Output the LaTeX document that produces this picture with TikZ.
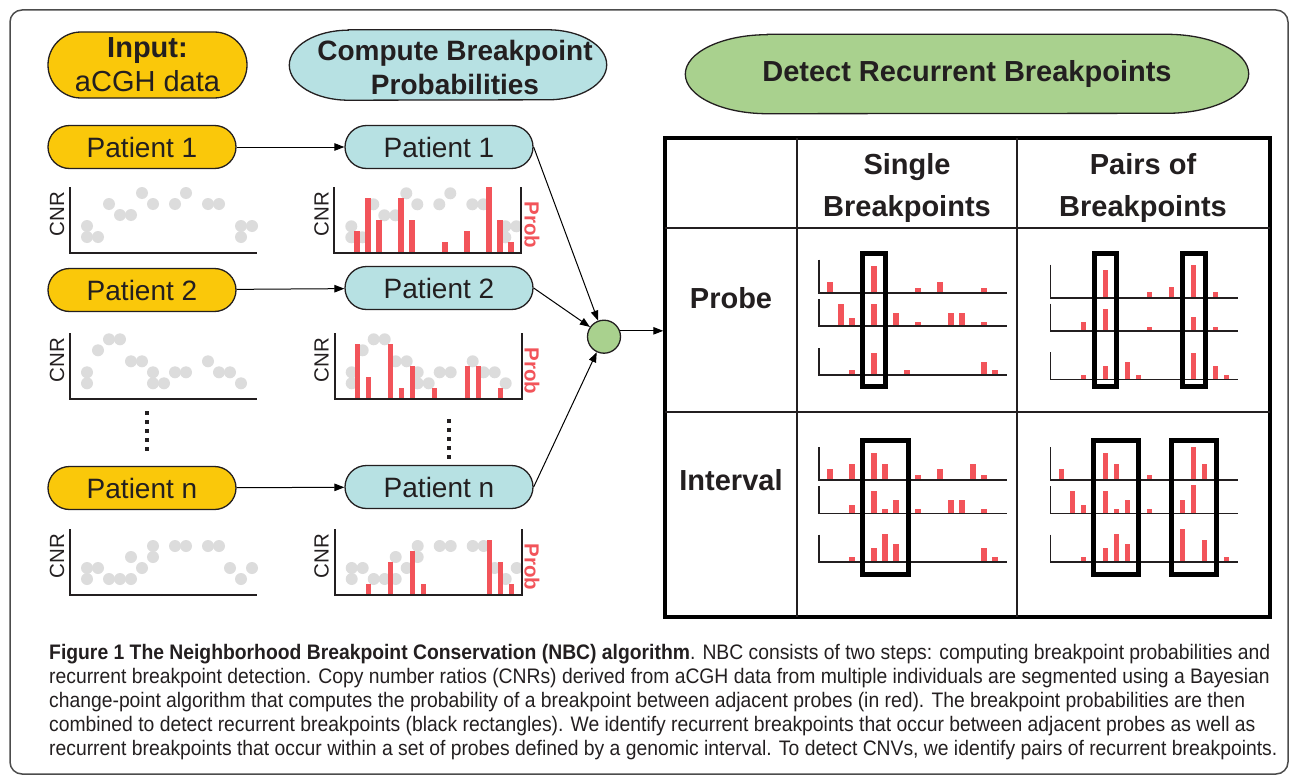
\documentclass[tikz,border=0pt]{standalone}
\usepackage{fontspec}
\setmainfont{Liberation Sans}
\newfontfamily\capfont[FakeStretch=0.92]{Liberation Sans}
\usepackage{xcolor}
\usepackage{tikz}
\usetikzlibrary{arrows.meta, shapes.geometric}

\definecolor{inputyellow}{RGB}{250,200,10}
\definecolor{computeblue}{RGB}{183,225,227}
\definecolor{detectgreen}{RGB}{169,209,142}
\definecolor{probred}{RGB}{242,84,90}
\definecolor{probegray}{RGB}{220,220,220}
\definecolor{inkdark}{RGB}{35,31,32}

% CNR scatter: origin x, origin y, dots k/level
\newcommand{\cnrplot}[3]{%
  \foreach \k/\l in {#3}
    \fill[probegray] ({#1+17+11*\k},{#2-5-11*\l}) circle (6);
  \draw[axisline] (#1,#2-66) -- (#1,#2) -- (#1+187,#2);
}
% CNR scatter with breakpoint probabilities: origin x, origin y, dots, bars j/level
\newcommand{\probplot}[4]{%
  \foreach \k/\l in {#3}
    \fill[probegray] ({#1+17+11*\k},{#2-5-11*\l}) circle (6);
  \foreach \j/\h in {#4}
    \fill[probred] ({#1+22.5+11*\j-2.7},#2) rectangle ++(5.4,{-11*\h});
  \draw[axisline] (#1,#2-66) -- (#1,#2) -- (#1+187,#2) -- (#1+187,#2-66);
}
% one track in the table: x, baseline, axis height, bars j/height
\newcommand{\bptrack}[4]{%
  \foreach \j/\h in {#4}
    \fill[probred] ({#1+11*\j-2.7},#2) rectangle ++(5.4,-\h);
  \draw[trackline] (#1,#2-#3) -- (#1,#2) -- (#1+188,#2);
}
% oval heading round a node: node, end radius, half height, fill
\newcommand{\stageoval}[4]{%
  \draw[draw=inkdark, line width=1.3, fill=#4]
    ([xshift=#2]#1.north west) -- ([xshift=-#2]#1.north east)
    arc[start angle=-90, end angle=90, x radius=#2, y radius=#3]
    -- ([xshift=#2]#1.south west)
    arc[start angle=90, end angle=270, x radius=#2, y radius=#3] -- cycle;
}

\begin{document}
\begin{tikzpicture}[x=1pt, y=-1pt,
    axisline/.style={line width=2, inkdark},
    trackline/.style={line width=1.6, inkdark},
    hitbox/.style={line width=5, black},
    cellline/.style={line width=1.8, inkdark},
    patientin/.style={draw=inkdark, line width=1.3, fill=inputyellow, rounded corners=21.5,
      minimum width=188, minimum height=43, inner sep=0, text=inkdark,
      font=\fontsize{28}{34}\selectfont},
    patientout/.style={patientin, fill=computeblue},
    stagehead/.style={inner sep=0, align=center, text=inkdark,
      font=\bfseries\fontsize{28}{34}\selectfont},
    cnrlabel/.style={rotate=90, inner sep=0, text=inkdark, font=\fontsize{20.5}{24}\selectfont},
    problabel/.style={rotate=-90, inner sep=0, text=probred, font=\bfseries\fontsize{20.5}{24}\selectfont},
    tablehead/.style={inner sep=0, align=center, text=inkdark, font=\bfseries\fontsize{29}{41}\selectfont},
    flow/.style={-{Triangle[length=10,width=7.5]}, line width=1, black}]
  \useasboundingbox (0,0) rectangle (1290,776);

  % outer frame
  \draw[line width=1.5, black!70, rounded corners=12] (10,10) rectangle (1288,774);

  % stage headings
  \node[stagehead, draw=inkdark, line width=1.3, fill=inputyellow, rounded corners=33,
    minimum width=199, minimum height=66, font=\fontsize{29}{34}\selectfont]
    (input) at (147.5,65) {\textbf{Input:}\\aCGH data};
  \node[minimum width=317, minimum height=70, inner sep=0] (compute) at (448,65) {};
  \stageoval{compute}{59}{35}{computeblue}
  \node[stagehead] (computetext) at (455,67) {Compute Breakpoint\\Probabilities};
  \node[minimum width=563, minimum height=79, inner sep=0] (detect) at (967,74) {};
  \stageoval{detect}{82}{39.5}{detectgreen}
  \node[stagehead, font=\bfseries\fontsize{29}{34}\selectfont] (detecttext) at (967,74)
    {Detect Recurrent Breakpoints};

  % patients
  \node[patientin] (pin1) at (142,147) {Patient 1};
  \node[patientin] (pin2) at (142,290) {Patient 2};
  \node[patientin] (pinn) at (142,488) {Patient n};
  \node[patientout] (pout1) at (439,147) {Patient 1};
  \node[patientout] (pout2) at (439,288) {Patient 2};
  \node[patientout] (poutn) at (439,487) {Patient n};

  % raw CNR plots
  \cnrplot{70}{253}{0/2,0/1,1/1,2/4,3/3,4/3,5/5,6/4,8/4,9/5,11/4,12/4,14/2,14/1,15/2}
  \cnrplot{70}{399.3}{0/2,0/1,1/4,2/5,3/5,4/3,5/3,6/2,6/1,7/1,8/2,9/2,11/3,12/2,13/2,14/1}
  \cnrplot{70}{595}{0/2,0/1,1/2,2/1,3/1,4/3,4/1,5/2,6/4,6/3,8/4,9/4,11/4,12/4,13/2,14/1,15/2}
  \node[cnrlabel] (cnrl1) at (57,214) {CNR};
  \node[cnrlabel] (cnrl2) at (57,360) {CNR};
  \node[cnrlabel] (cnrln) at (57,556) {CNR};

  % segmented plots with breakpoint probabilities
  \probplot{334.3}{253.3}{0/2,0/1,1/1,2/4,3/3,4/3,5/5,6/4,8/4,9/5,11/4,12/4,14/2,14/1,15/2}
    {0/2,1/5,2/3,4/5,5/3,8/1,10/2,12/6,13/3,14/1}
  \probplot{334.7}{399.3}{0/2,0/1,1/4,2/5,3/5,4/3,5/3,6/2,6/1,7/1,8/2,9/2,11/3,12/2,13/2,14/1}
    {0/5,1/2,3/5,4/1,5/3,7/1,10/3,11/3,13/1}
  \probplot{334.7}{595}{0/2,0/1,1/2,2/1,3/1,4/3,4/1,5/2,6/4,6/3,8/4,9/4,11/4,12/4,13/2,14/1,15/2}
    {1/1,3/3,5/4,6/1,12/5,13/3,14/1}
  \node[cnrlabel] (cnrm1) at (321.5,214) {CNR};
  \node[cnrlabel] (cnrm2) at (321.5,360) {CNR};
  \node[cnrlabel] (cnrmn) at (321.5,556) {CNR};
  \node[problabel] (prob1) at (532,225) {Prob};
  \node[problabel] (prob2) at (532,371) {Prob};
  \node[problabel] (probn) at (532,567) {Prob};

  % more patients
  \draw[line width=4, inkdark, dash pattern=on 4 off 5] (147,411) -- (147,452);
  \draw[line width=4, inkdark, dash pattern=on 4 off 5] (449,419) -- (449,460);

  % flow
  \node[circle, draw=inkdark, line width=1.3, fill=detectgreen, minimum size=33, inner sep=0]
    (merge) at (604,336.7) {};
  \node[draw, line width=3.5, minimum width=605, minimum height=479, inner sep=0]
    (grid) at (967.5,377.5) {};
  \draw[flow] (pin1) -- (pout1);
  \draw[flow] (pin2) -- (pout2);
  \draw[flow] (pinn) -- (poutn);
  \draw[flow] (pout1.east) -- (merge);
  \draw[flow] (pout2.east) -- (merge);
  \draw[flow] (poutn.east) -- (merge);
  \draw[flow] (merge.20) -- (merge.20 -| grid.west);

  % table
  \draw[cellline] (797,138) -- (797,617);
  \draw[cellline] (1017,138) -- (1017,617);
  \draw[cellline] (665,228.3) -- (1270,228.3);
  \draw[cellline] (665,411.7) -- (1270,411.7);
  \node[tablehead] (single) at (907,188) {Single\\Breakpoints};
  \node[tablehead] (pairs) at (1143,188) {Pairs of\\Breakpoints};
  \node[tablehead] (probe) at (731,298) {Probe};
  \node[tablehead] (interval) at (731,480) {Interval};

  % single breakpoint, probe
  \bptrack{819}{292.7}{33}{1/10.3,5/27,9/5,11/10.3,15/5}
  \bptrack{819}{326}{27}{2/22,3/8.3,5/22,7/13.3,9/4.3,12/13.3,13/13.3,15/4.3}
  \bptrack{819}{375}{27}{3/4.7,5/21.7,8/4.7,15/13.3,16/4.7}
  \draw[hitbox] (862.7,253.3) rectangle (885.7,386);
  % pairs, probe
  \bptrack{1050.3}{297.7}{33}{5/27.7,9/5.3,11/10.7,13/32.7,15/5.3}
  \bptrack{1050.3}{330.7}{27}{3/8.3,5/21.7,9/4,13/13.3,15/4}
  \bptrack{1050.3}{379.3}{27}{3/4.3,5/13.3,7/17.7,8/4.3,13/26.7,15/13.3,16/4.3}
  \draw[hitbox] (1094,253.3) rectangle (1116.7,386);
  \draw[hitbox] (1182.3,253.3) rectangle (1205,386);
  % single breakpoint, interval
  \bptrack{819}{480}{33}{1/10.7,3/16,5/27.3,6/16,9/5,11/10.7,14/16,15/5}
  \bptrack{819}{513.3}{27}{3/8.3,5/22,6/4.3,7/13.3,9/4.3,12/13.3,13/13.3,15/4.3}
  \bptrack{819}{561.7}{27}{3/4.3,5/13.3,6/28,7/17.7,15/13.3,16/4.3}
  \draw[hitbox] (862,440.7) rectangle (908,574);
  % pairs, interval
  \bptrack{1050.3}{480}{33}{1/10.7,5/27.3,6/16,9/5,13/32.7,14/16}
  \bptrack{1050.3}{513.3}{27}{2/22,3/8.3,5/22,6/4.3,7/13.3,9/4.3,12/13.3,13/28.3}
  \bptrack{1050.3}{561.7}{27}{3/4.3,5/13.3,6/28,7/17.7,12/32.7,14/21.7,16/4.3}
  \draw[hitbox] (1093.3,440.7) rectangle (1138.7,574);
  \draw[hitbox] (1171,440.7) rectangle (1216.7,574);

  % caption
  \node[anchor=north west, inner sep=0, align=left, text=inkdark,
    font=\capfont\fontsize{21}{24}\selectfont] (caption) at (49,644)
    {\textbf{Figure 1 The Neighborhood Breakpoint Conservation (NBC) algorithm}. NBC consists of two steps: computing breakpoint probabilities and\\
     recurrent breakpoint detection. Copy number ratios (CNRs) derived from aCGH data from multiple individuals are segmented using a Bayesian\\
     change-point algorithm that computes the probability of a breakpoint between adjacent probes (in red). The breakpoint probabilities are then\\
     combined to detect recurrent breakpoints (black rectangles). We identify recurrent breakpoints that occur between adjacent probes as well as\\
     recurrent breakpoints that occur within a set of probes defined by a genomic interval. To detect CNVs, we identify pairs of recurrent breakpoints.};
\end{tikzpicture}
\end{document}
